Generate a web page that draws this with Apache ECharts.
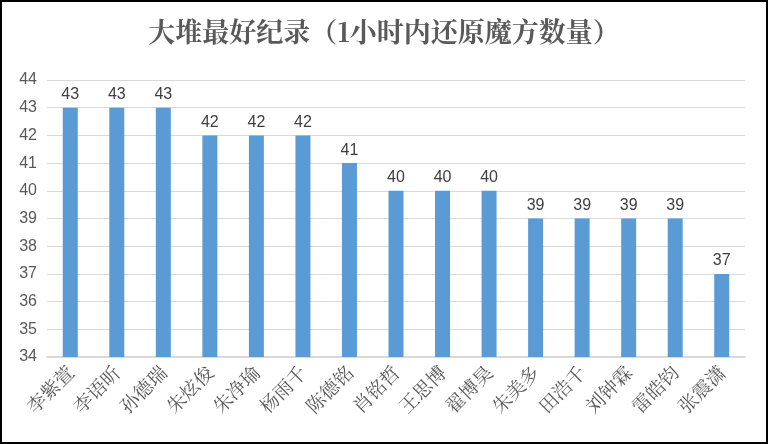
<!DOCTYPE html><html><head><meta charset="utf-8"><script src="https://cdn.jsdelivr.net/npm/echarts@6/dist/echarts.min.js"></script>
<style>html,body{margin:0;padding:0;background:#fff}#c{width:768px;height:444px;box-sizing:border-box;border:2px solid #000}</style></head><body><div id="c"></div><script>
const categories=['李紫萱','李语昕','孙德瑞','朱炫俊','朱净瑜','杨雨千','陈德铭','肖铭哲','王思博','翟博昊','朱美多','田浩千','刘钟霖','雷皓钧','张震潇'];
const values=[43,43,43,42,42,42,41,40,40,40,39,39,39,39,37];
const chart=echarts.init(document.getElementById('c'));
chart.setOption({
title:{text:'大堆最好纪录（1小时内还原魔方数量）',left:'center',top:11,textStyle:{fontFamily:'Noto Serif CJK SC, Noto Sans CJK SC, serif',fontSize:27,fontWeight:'bold',color:'#595959'}},
grid:{left:45,right:21,top:78,bottom:85},
xAxis:{type:'category',data:categories,axisTick:{show:false},axisLine:{lineStyle:{color:'#d9d9d9',width:2}},
axisLabel:{rotate:45,fontSize:19,color:'#595959',fontFamily:'Noto Serif CJK SC, Noto Sans CJK SC',margin:12,interval:0}},
yAxis:{type:'value',min:34,max:44,interval:1,axisLabel:{fontSize:16,color:'#595959',fontFamily:'Liberation Sans',margin:10},splitLine:{lineStyle:{color:'#d9d9d9'}}},
series:[{type:'bar',data:values,barWidth:15,itemStyle:{color:'#5b9bd5'},label:{show:true,position:'top',fontSize:16,color:'#404040',fontFamily:'Liberation Sans'}}]
});
</script></body></html>
